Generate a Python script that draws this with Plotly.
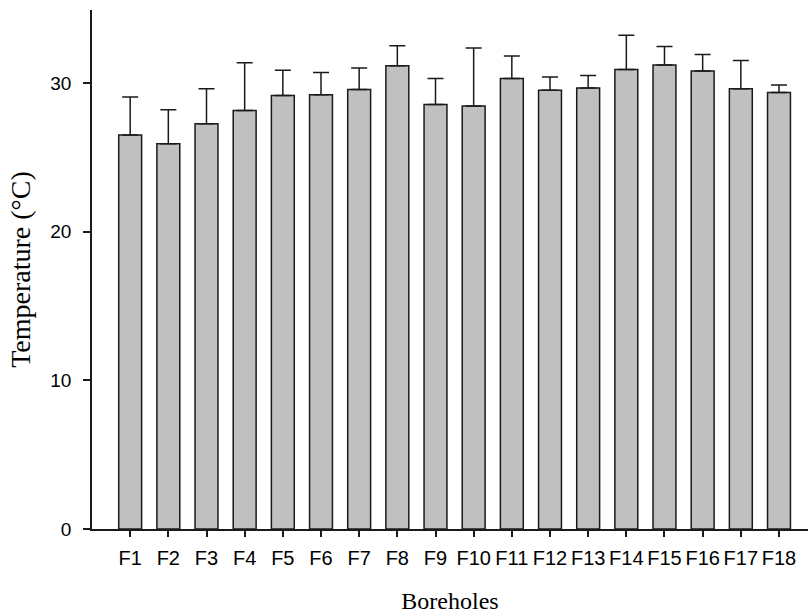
import plotly.graph_objects as go

# Mean borehole water temperature with upper standard-deviation bars
boreholes = ["F1", "F2", "F3", "F4", "F5", "F6", "F7", "F8", "F9",
             "F10", "F11", "F12", "F13", "F14", "F15", "F16", "F17", "F18"]
mean_temp = [26.5, 25.9, 27.25, 28.15, 29.15, 29.2, 29.55, 31.15, 28.55,
             28.45, 30.3, 29.5, 29.65, 30.9, 31.2, 30.8, 29.6, 29.35]
std_temp = [2.55, 2.3, 2.35, 3.2, 1.7, 1.5, 1.45, 1.35, 1.75,
            3.9, 1.5, 0.9, 0.85, 2.3, 1.25, 1.1, 1.9, 0.5]
y_ticks = [0, 10, 20, 30]

xpos = list(range(len(boreholes)))

fig = go.Figure(
    go.Bar(
        x=xpos,
        y=mean_temp,
        width=0.6,
        marker=dict(color="#c0c0c0", line=dict(color="#1a1a1a", width=1.5)),
        error_y=dict(type="data", array=std_temp, symmetric=False,
                     arrayminus=[0] * len(std_temp),
                     color="#1a1a1a", thickness=1.5, width=8),
    )
)

fig.update_layout(
    width=809, height=616,
    margin=dict(l=92, r=1, t=10, b=87),
    paper_bgcolor="white", plot_bgcolor="white",
    showlegend=False,
    font=dict(family="Liberation Sans, Arial", size=19, color="black"),
)

fig.update_xaxes(
    range=[-1, 17.76],
    tickmode="array", tickvals=xpos, ticktext=boreholes,
    tickfont=dict(size=20),
    ticks="outside", ticklen=6, tickwidth=1.5, tickcolor="#1a1a1a",
    showline=True, linecolor="#1a1a1a", linewidth=1.5,
    showgrid=False, zeroline=False, automargin=False,
    ticklabelstandoff=4,
    title=dict(text="Boreholes", font=dict(family="Liberation Serif, Times New Roman", size=24),
               standoff=24),
)
fig.update_yaxes(
    range=[0, 34.9],
    tickmode="array", tickvals=y_ticks,
    ticks="outside", ticklen=7, tickwidth=1.5, tickcolor="#1a1a1a",
    showline=True, linecolor="#1a1a1a", linewidth=1.5,
    showgrid=False, zeroline=False, automargin=False,
    ticklabelstandoff=8,
    title=dict(text="Temperature (°C)", font=dict(family="Liberation Serif, Times New Roman", size=28),
               standoff=12),
)

fig.write_html("out.html")
